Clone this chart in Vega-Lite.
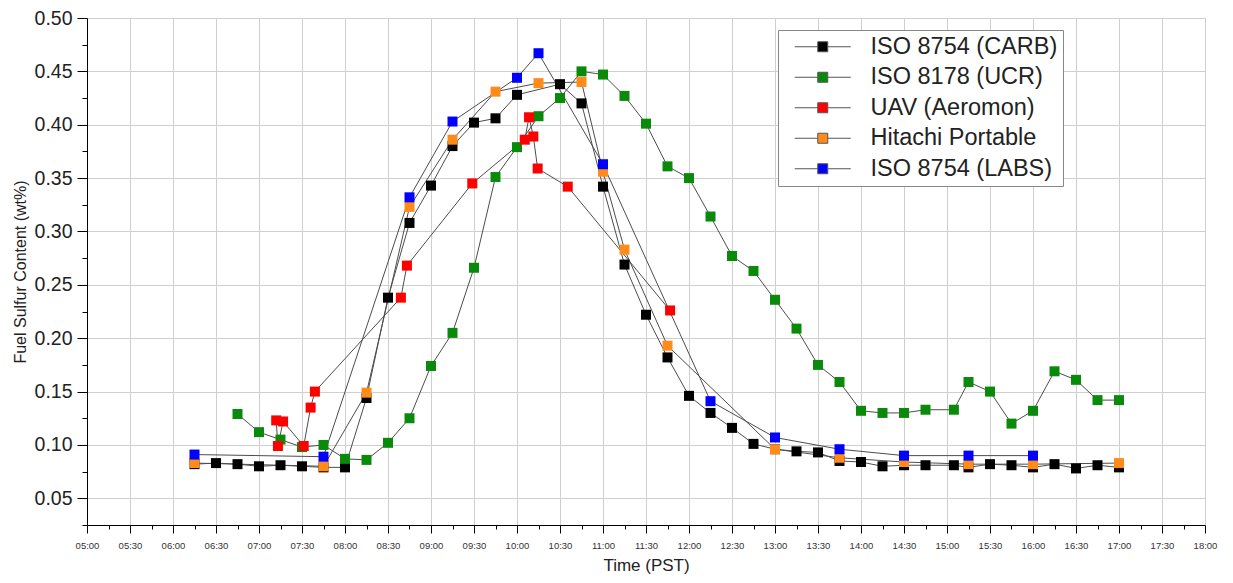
{
  "$schema": "https://vega.github.io/schema/vega-lite/v6.json",
  "width": 1118,
  "height": 507,
  "autosize": {"type": "none"},
  "padding": {"left": 87, "top": 18, "right": 28, "bottom": 58},
  "background": "white",
  "config": {"view": {"stroke": null}, "font": "Liberation Sans"},
  "data": {
    "values": [
      {"s": "ISO 8754 (CARB)", "h": 6.25, "v": 0.082},
      {"s": "ISO 8754 (CARB)", "h": 6.5, "v": 0.083},
      {"s": "ISO 8754 (CARB)", "h": 6.75, "v": 0.082},
      {"s": "ISO 8754 (CARB)", "h": 7.0, "v": 0.080},
      {"s": "ISO 8754 (CARB)", "h": 7.25, "v": 0.081},
      {"s": "ISO 8754 (CARB)", "h": 7.5, "v": 0.080},
      {"s": "ISO 8754 (CARB)", "h": 7.75, "v": 0.079},
      {"s": "ISO 8754 (CARB)", "h": 8.0, "v": 0.079},
      {"s": "ISO 8754 (CARB)", "h": 8.25, "v": 0.144},
      {"s": "ISO 8754 (CARB)", "h": 8.5, "v": 0.238},
      {"s": "ISO 8754 (CARB)", "h": 8.75, "v": 0.308},
      {"s": "ISO 8754 (CARB)", "h": 9.0, "v": 0.343},
      {"s": "ISO 8754 (CARB)", "h": 9.25, "v": 0.380},
      {"s": "ISO 8754 (CARB)", "h": 9.5, "v": 0.402},
      {"s": "ISO 8754 (CARB)", "h": 9.75, "v": 0.406},
      {"s": "ISO 8754 (CARB)", "h": 10.0, "v": 0.428},
      {"s": "ISO 8754 (CARB)", "h": 10.5, "v": 0.438},
      {"s": "ISO 8754 (CARB)", "h": 10.75, "v": 0.420},
      {"s": "ISO 8754 (CARB)", "h": 11.0, "v": 0.342},
      {"s": "ISO 8754 (CARB)", "h": 11.25, "v": 0.269},
      {"s": "ISO 8754 (CARB)", "h": 11.5, "v": 0.222},
      {"s": "ISO 8754 (CARB)", "h": 11.75, "v": 0.182},
      {"s": "ISO 8754 (CARB)", "h": 12.0, "v": 0.146},
      {"s": "ISO 8754 (CARB)", "h": 12.25, "v": 0.130},
      {"s": "ISO 8754 (CARB)", "h": 12.5, "v": 0.116},
      {"s": "ISO 8754 (CARB)", "h": 12.75, "v": 0.101},
      {"s": "ISO 8754 (CARB)", "h": 13.0, "v": 0.096},
      {"s": "ISO 8754 (CARB)", "h": 13.25, "v": 0.094},
      {"s": "ISO 8754 (CARB)", "h": 13.5, "v": 0.093},
      {"s": "ISO 8754 (CARB)", "h": 13.75, "v": 0.085},
      {"s": "ISO 8754 (CARB)", "h": 14.0, "v": 0.084},
      {"s": "ISO 8754 (CARB)", "h": 14.25, "v": 0.080},
      {"s": "ISO 8754 (CARB)", "h": 14.5, "v": 0.081},
      {"s": "ISO 8754 (CARB)", "h": 14.75, "v": 0.081},
      {"s": "ISO 8754 (CARB)", "h": 15.08, "v": 0.081},
      {"s": "ISO 8754 (CARB)", "h": 15.25, "v": 0.079},
      {"s": "ISO 8754 (CARB)", "h": 15.5, "v": 0.082},
      {"s": "ISO 8754 (CARB)", "h": 15.75, "v": 0.081},
      {"s": "ISO 8754 (CARB)", "h": 16.0, "v": 0.079},
      {"s": "ISO 8754 (CARB)", "h": 16.25, "v": 0.082},
      {"s": "ISO 8754 (CARB)", "h": 16.5, "v": 0.078},
      {"s": "ISO 8754 (CARB)", "h": 16.75, "v": 0.081},
      {"s": "ISO 8754 (CARB)", "h": 17.0, "v": 0.079},
      {"s": "ISO 8178 (UCR)", "h": 6.75, "v": 0.129},
      {"s": "ISO 8178 (UCR)", "h": 7.0, "v": 0.112},
      {"s": "ISO 8178 (UCR)", "h": 7.25, "v": 0.105},
      {"s": "ISO 8178 (UCR)", "h": 7.5, "v": 0.098},
      {"s": "ISO 8178 (UCR)", "h": 7.75, "v": 0.100},
      {"s": "ISO 8178 (UCR)", "h": 8.0, "v": 0.087},
      {"s": "ISO 8178 (UCR)", "h": 8.25, "v": 0.086},
      {"s": "ISO 8178 (UCR)", "h": 8.5, "v": 0.102},
      {"s": "ISO 8178 (UCR)", "h": 8.75, "v": 0.125},
      {"s": "ISO 8178 (UCR)", "h": 9.0, "v": 0.174},
      {"s": "ISO 8178 (UCR)", "h": 9.25, "v": 0.205},
      {"s": "ISO 8178 (UCR)", "h": 9.5, "v": 0.266},
      {"s": "ISO 8178 (UCR)", "h": 9.75, "v": 0.351},
      {"s": "ISO 8178 (UCR)", "h": 10.0, "v": 0.379},
      {"s": "ISO 8178 (UCR)", "h": 10.25, "v": 0.408},
      {"s": "ISO 8178 (UCR)", "h": 10.5, "v": 0.425},
      {"s": "ISO 8178 (UCR)", "h": 10.75, "v": 0.450},
      {"s": "ISO 8178 (UCR)", "h": 11.0, "v": 0.447},
      {"s": "ISO 8178 (UCR)", "h": 11.25, "v": 0.427},
      {"s": "ISO 8178 (UCR)", "h": 11.5, "v": 0.401},
      {"s": "ISO 8178 (UCR)", "h": 11.75, "v": 0.361},
      {"s": "ISO 8178 (UCR)", "h": 12.0, "v": 0.350},
      {"s": "ISO 8178 (UCR)", "h": 12.25, "v": 0.314},
      {"s": "ISO 8178 (UCR)", "h": 12.5, "v": 0.277},
      {"s": "ISO 8178 (UCR)", "h": 12.75, "v": 0.263},
      {"s": "ISO 8178 (UCR)", "h": 13.0, "v": 0.236},
      {"s": "ISO 8178 (UCR)", "h": 13.25, "v": 0.209},
      {"s": "ISO 8178 (UCR)", "h": 13.5, "v": 0.175},
      {"s": "ISO 8178 (UCR)", "h": 13.75, "v": 0.159},
      {"s": "ISO 8178 (UCR)", "h": 14.0, "v": 0.132},
      {"s": "ISO 8178 (UCR)", "h": 14.25, "v": 0.130},
      {"s": "ISO 8178 (UCR)", "h": 14.5, "v": 0.130},
      {"s": "ISO 8178 (UCR)", "h": 14.75, "v": 0.133},
      {"s": "ISO 8178 (UCR)", "h": 15.08, "v": 0.133},
      {"s": "ISO 8178 (UCR)", "h": 15.25, "v": 0.159},
      {"s": "ISO 8178 (UCR)", "h": 15.5, "v": 0.150},
      {"s": "ISO 8178 (UCR)", "h": 15.75, "v": 0.120},
      {"s": "ISO 8178 (UCR)", "h": 16.0, "v": 0.132},
      {"s": "ISO 8178 (UCR)", "h": 16.25, "v": 0.169},
      {"s": "ISO 8178 (UCR)", "h": 16.5, "v": 0.161},
      {"s": "ISO 8178 (UCR)", "h": 16.75, "v": 0.142},
      {"s": "ISO 8178 (UCR)", "h": 17.0, "v": 0.142},
      {"s": "UAV (Aeromon)", "h": 7.2, "v": 0.123},
      {"s": "UAV (Aeromon)", "h": 7.22, "v": 0.099},
      {"s": "UAV (Aeromon)", "h": 7.28, "v": 0.122},
      {"s": "UAV (Aeromon)", "h": 7.52, "v": 0.099},
      {"s": "UAV (Aeromon)", "h": 7.6, "v": 0.135},
      {"s": "UAV (Aeromon)", "h": 7.65, "v": 0.150},
      {"s": "UAV (Aeromon)", "h": 8.65, "v": 0.238},
      {"s": "UAV (Aeromon)", "h": 8.72, "v": 0.268},
      {"s": "UAV (Aeromon)", "h": 9.48, "v": 0.345},
      {"s": "UAV (Aeromon)", "h": 10.09, "v": 0.386},
      {"s": "UAV (Aeromon)", "h": 10.14, "v": 0.407},
      {"s": "UAV (Aeromon)", "h": 10.19, "v": 0.389},
      {"s": "UAV (Aeromon)", "h": 10.24, "v": 0.359},
      {"s": "UAV (Aeromon)", "h": 10.59, "v": 0.342},
      {"s": "UAV (Aeromon)", "h": 11.78, "v": 0.226},
      {"s": "Hitachi Portable", "h": 6.25, "v": 0.083},
      {"s": "Hitachi Portable", "h": 7.75, "v": 0.080},
      {"s": "Hitachi Portable", "h": 8.25, "v": 0.149},
      {"s": "Hitachi Portable", "h": 8.75, "v": 0.323},
      {"s": "Hitachi Portable", "h": 9.25, "v": 0.386},
      {"s": "Hitachi Portable", "h": 9.75, "v": 0.431},
      {"s": "Hitachi Portable", "h": 10.25, "v": 0.439},
      {"s": "Hitachi Portable", "h": 10.75, "v": 0.440},
      {"s": "Hitachi Portable", "h": 11.0, "v": 0.356},
      {"s": "Hitachi Portable", "h": 11.25, "v": 0.283},
      {"s": "Hitachi Portable", "h": 11.75, "v": 0.193},
      {"s": "Hitachi Portable", "h": 13.0, "v": 0.096},
      {"s": "Hitachi Portable", "h": 13.75, "v": 0.088},
      {"s": "Hitachi Portable", "h": 14.5, "v": 0.084},
      {"s": "Hitachi Portable", "h": 15.25, "v": 0.082},
      {"s": "Hitachi Portable", "h": 16.0, "v": 0.082},
      {"s": "Hitachi Portable", "h": 17.0, "v": 0.083},
      {"s": "ISO 8754 (LABS)", "h": 6.25, "v": 0.091},
      {"s": "ISO 8754 (LABS)", "h": 7.75, "v": 0.089},
      {"s": "ISO 8754 (LABS)", "h": 8.75, "v": 0.332},
      {"s": "ISO 8754 (LABS)", "h": 9.25, "v": 0.403},
      {"s": "ISO 8754 (LABS)", "h": 10.0, "v": 0.444},
      {"s": "ISO 8754 (LABS)", "h": 10.25, "v": 0.467},
      {"s": "ISO 8754 (LABS)", "h": 11.0, "v": 0.363},
      {"s": "ISO 8754 (LABS)", "h": 12.25, "v": 0.141},
      {"s": "ISO 8754 (LABS)", "h": 13.0, "v": 0.107},
      {"s": "ISO 8754 (LABS)", "h": 13.75, "v": 0.096},
      {"s": "ISO 8754 (LABS)", "h": 14.5, "v": 0.090},
      {"s": "ISO 8754 (LABS)", "h": 15.25, "v": 0.090},
      {"s": "ISO 8754 (LABS)", "h": 16.0, "v": 0.090}
    ]
  },
  "layer": [
    {
      "mark": {"type": "line", "color": "#4d4d4d", "strokeWidth": 1},
      "encoding": {
        "x": {
          "field": "h", "type": "quantitative",
          "scale": {"domain": [5, 18], "nice": false, "zero": false},
          "axis": {
            "orient": "bottom",
            "title": "Time (PST)",
            "values": [5, 5.5, 6, 6.5, 7, 7.5, 8, 8.5, 9, 9.5, 10, 10.5, 11, 11.5, 12, 12.5, 13, 13.5, 14, 14.5, 15, 15.5, 16, 16.5, 17, 17.5, 18],
            "labelExpr": "(datum.value < 10 ? '0' : '') + floor(datum.value) + ':' + (datum.value % 1 ? '30' : '00')",
            "labelFontSize": 9.5,
            "labelColor": "#333333",
            "labelFlush": false,
            "labelOverlap": false,
            "labelPadding": 7,
            "tickSize": 8,
            "tickColor": "#000000",
            "domainColor": "#000000",
            "grid": true,
            "gridColor": "#cfcfcf",
            "titleFontSize": 17,
            "titleFontWeight": "normal",
            "titleColor": "#222222",
            "titlePadding": 8
          }
        },
        "y": {
          "field": "v", "type": "quantitative",
          "scale": {"domain": [0.025, 0.5], "nice": false, "zero": false},
          "axis": {
            "orient": "left",
            "title": "Fuel Sulfur Content (wt%)",
            "values": [0.05, 0.1, 0.15, 0.2, 0.25, 0.3, 0.35, 0.4, 0.45, 0.5],
            "format": ".2f",
            "labelFontSize": 19.5,
            "labelColor": "#222222",
            "labelPadding": 5,
            "tickSize": 10,
            "tickColor": "#000000",
            "domainColor": "#000000",
            "grid": true,
            "gridColor": "#cfcfcf",
            "titleFontSize": 16,
            "titleFontWeight": "normal",
            "titleColor": "#222222",
            "titlePadding": 6
          }
        },
        "detail": {"field": "s", "type": "nominal"}
      }
    },
    {
      "mark": {"type": "point", "shape": "square", "filled": true, "size": 100, "opacity": 1},
      "encoding": {
        "x": {
          "field": "h", "type": "quantitative",
          "axis": {"orient": "bottom", "title": null, "labels": false, "grid": false, "domain": false, "tickSize": 4, "tickColor": "#000000", "values": [5.25, 5.75, 6.25, 6.75, 7.25, 7.75, 8.25, 8.75, 9.25, 9.75, 10.25, 10.75, 11.25, 11.75, 12.25, 12.75, 13.25, 13.75, 14.25, 14.75, 15.25, 15.75, 16.25, 16.75, 17.25, 17.75]}
        },
        "y": {
          "field": "v", "type": "quantitative",
          "axis": {"orient": "left", "title": null, "labels": false, "grid": false, "domain": false, "tickSize": 5, "tickColor": "#000000", "values": [0.025, 0.075, 0.125, 0.175, 0.225, 0.275, 0.325, 0.375, 0.425, 0.475]}
        },
        "color": {
          "field": "s", "type": "nominal",
          "scale": {
            "domain": ["ISO 8754 (CARB)", "ISO 8178 (UCR)", "UAV (Aeromon)", "Hitachi Portable", "ISO 8754 (LABS)"],
            "range": ["#000000", "#0a8a0a", "#ff0000", "#ff8c1a", "#0000ff"]
          },
          "legend": {
            "orient": "none",
            "legendX": 691,
            "legendY": 12,
            "title": null,
            "labelFontSize": 23.5,
            "labelColor": "#222222",
            "labelOffset": 64,
            "labelLimit": 400,
            "symbolType": "M0,0H4.6M6.6,0H11.2M4.6,-1H6.6V1H4.6Z",
            "symbolSize": 100,
            "symbolStrokeColor": "#555555",
            "symbolStrokeWidth": 1,
            "symbolOpacity": 1,
            "padding": 5,
            "rowPadding": 5.5,
            "fillColor": "white",
            "strokeColor": "#888888",
            "cornerRadius": 0
          }
        }
      }
    }
  ],
  "resolve": {"axis": {"x": "independent", "y": "independent"}}
}
